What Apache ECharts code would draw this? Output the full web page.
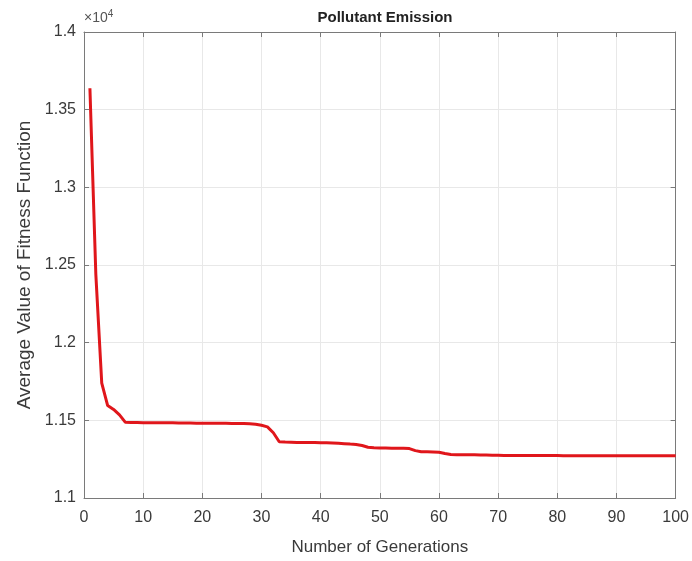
<!DOCTYPE html>
<html>
<head>
<meta charset="utf-8">
<script src="https://cdn.jsdelivr.net/npm/echarts@6/dist/echarts.min.js"></script>
<style>html,body{margin:0;padding:0;background:#fff}#c{width:692px;height:561px}</style>
</head>
<body>
<div id="c"></div>
<script>
var title = 'Pollutant Emission';
var xName = 'Number of Generations';
var yName = 'Average Value of Fitness Function';
var xTicks = [0,10,20,30,40,50,60,70,80,90,100];
var yTicks = ['1.1','1.15','1.2','1.25','1.3','1.35','1.4'];
var fitness = [
13638,12440,11740,11595,11570,11535,11487,11486,11486,11485,
11485,11485,11484,11484,11484,11483,11483,11483,11482,11482,
11482,11481,11481,11481,11480,11480,11479,11478,11475,11468,
11458,11420,11362,11360,11359,11358,11358,11357,11357,11356,
11355,11354,11352,11350,11347,11345,11338,11327,11324,11322,
11322,11321,11321,11320,11318,11305,11298,11297,11296,11294,
11286,11280,11279,11279,11278,11278,11277,11277,11276,11275,
11273,11273,11273,11273,11273,11273,11273,11273,11273,11273,
11272,11272,11272,11272,11272,11272,11272,11272,11272,11272,
11272,11272,11272,11272,11272,11272,11272,11272,11272,11272
];
var generations = fitness.map(function(v,i){return i+1;});
var seriesData = fitness.map(function(v,i){return [generations[i], v];});

var font = 'Liberation Sans, Arial, sans-serif';
var axisCol = '#7a7a7a';
var textCol = '#3a3a3a';
var chart = echarts.init(document.getElementById('c'));
function baseX(show){
  return {type:'value',min:0,max:100,interval:10,
    axisLine:{show:true,onZero:false,lineStyle:{color:axisCol,width:1}},
    axisTick:{show:true,inside:true,length:5,lineStyle:{color:axisCol}},
    axisLabel:{show:show,color:textCol,fontSize:16,fontFamily:font,margin:12},
    splitLine:{show:show,lineStyle:{color:'#e8e8e8',width:1}}};
}
function baseY(show){
  return {type:'value',min:11000,max:14000,interval:500,
    axisLine:{show:true,onZero:false,lineStyle:{color:axisCol,width:1}},
    axisTick:{show:true,inside:true,length:5,lineStyle:{color:axisCol}},
    axisLabel:{show:show,color:textCol,fontSize:16,fontFamily:font,margin:8,
      formatter:function(v){var i=Math.round((v-11000)/500);return yTicks[i];}},
    splitLine:{show:show,lineStyle:{color:'#e8e8e8',width:1}}};
}
var x0 = baseX(true);
x0.name = xName; x0.nameLocation='middle'; x0.nameGap=41;
x0.nameTextStyle={color:textCol,fontSize:17,fontFamily:font};
var x1 = baseX(false); x1.position='top';
var y0 = baseY(true);
y0.name = yName; y0.nameLocation='middle'; y0.nameGap=49;
y0.nameTextStyle={color:textCol,fontSize:19,fontFamily:font};
var y1 = baseY(false); y1.position='right';
chart.setOption({
  animation:false,
  title:{text:title,left:380,top:5,textAlign:'center',
    textStyle:{fontSize:15,fontWeight:'bold',color:'#222',fontFamily:font}},
  grid:{left:84,right:15,top:32,bottom:62,containLabel:false},
  xAxis:[x0,x1],
  yAxis:[y0,y1],
  graphic:[{type:'text',left:84,top:9,
    style:{text:'{a|×10}{b|4}',fill:'#444',font:'14px '+font,
      rich:{a:{fontSize:14,fontFamily:font,fill:'#555'},b:{fontSize:10,fontFamily:font,fill:'#555',verticalAlign:'top',padding:[0,0,8,0]}}}}],
  series:[{type:'line',xAxisIndex:0,yAxisIndex:0,data:seriesData,showSymbol:false,
    lineStyle:{color:'#e0161b',width:3},smooth:false}]
});
</script>
</body>
</html>
